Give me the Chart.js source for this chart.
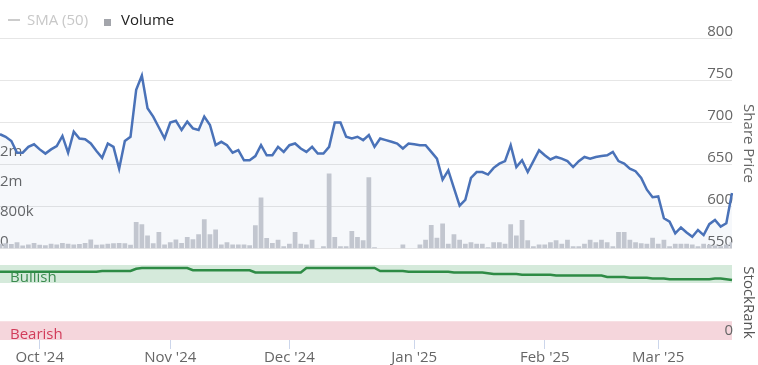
<!DOCTYPE html>
<html>
<head>
<meta charset="utf-8">
<script src="https://cdn.jsdelivr.net/npm/chart.js@4/dist/chart.umd.min.js"></script>
<style>
  body { margin: 0; background: #fff; font-family: "Open Sans", sans-serif; }
  #legend { position: absolute; left: 0; top: 0; width: 758px; height: 38px; font-size: 15px; }
  #legend span { position: absolute; white-space: nowrap; }
  #topPanel { position: absolute; left: 0; top: 0; width: 758px; height: 250px; }
  #bottomPanel { position: absolute; left: 0; top: 250px; width: 758px; height: 115px; }
</style>
</head>
<body>
<div id="topPanel"><canvas id="priceChart"></canvas></div>
<div id="bottomPanel"><canvas id="rankChart"></canvas></div>
<div id="legend">
  <span style="left:8px;top:19px;width:12px;height:2px;background:#cccccc"></span>
  <span style="left:27px;top:9px;color:#c8c8c8">SMA (50)</span>
  <span style="left:104px;top:19px;width:7px;height:7px;background:#a3a5ab"></span>
  <span style="left:121px;top:9px;color:#222">Volume</span>
</div>
<script>
// trading days shown on the x axis
const dates = [
  '2024-09-20','2024-09-23','2024-09-24','2024-09-25','2024-09-26','2024-09-27','2024-09-30',
  '2024-10-01','2024-10-02','2024-10-03','2024-10-04','2024-10-07','2024-10-08','2024-10-09','2024-10-10','2024-10-11',
  '2024-10-14','2024-10-15','2024-10-16','2024-10-17','2024-10-18','2024-10-21','2024-10-22','2024-10-23','2024-10-24',
  '2024-10-25','2024-10-28','2024-10-29','2024-10-30','2024-10-31',
  '2024-11-01','2024-11-04','2024-11-05','2024-11-06','2024-11-07','2024-11-08','2024-11-11','2024-11-12','2024-11-13',
  '2024-11-14','2024-11-15','2024-11-18','2024-11-19','2024-11-20','2024-11-21','2024-11-22','2024-11-25','2024-11-26',
  '2024-11-27','2024-11-28','2024-11-29',
  '2024-12-02','2024-12-03','2024-12-04','2024-12-05','2024-12-06','2024-12-09','2024-12-10','2024-12-11','2024-12-12',
  '2024-12-13','2024-12-16','2024-12-17','2024-12-18','2024-12-19','2024-12-20','2024-12-23','2024-12-24','2024-12-25',
  '2024-12-26','2024-12-27','2024-12-30','2024-12-31',
  '2025-01-01','2025-01-02','2025-01-03','2025-01-06','2025-01-07','2025-01-08','2025-01-09','2025-01-10','2025-01-13',
  '2025-01-14','2025-01-15','2025-01-16','2025-01-17','2025-01-20','2025-01-21','2025-01-22','2025-01-23','2025-01-24',
  '2025-01-27','2025-01-28','2025-01-29','2025-01-30','2025-01-31',
  '2025-02-03','2025-02-04','2025-02-05','2025-02-06','2025-02-07','2025-02-10','2025-02-11','2025-02-12','2025-02-13',
  '2025-02-14','2025-02-17','2025-02-18','2025-02-19','2025-02-20','2025-02-21','2025-02-24','2025-02-25','2025-02-26',
  '2025-02-27','2025-02-28',
  '2025-03-03','2025-03-04','2025-03-05','2025-03-06','2025-03-07','2025-03-10','2025-03-11','2025-03-12','2025-03-13',
  '2025-03-14','2025-03-17','2025-03-18','2025-03-19','2025-03-20'
];

// share price (pence)
const sharePrice = [
  686, 683, 678, 664, 664, 671, 674, 668, 663, 668,
  672, 684, 664, 689, 681, 680, 675, 666, 658, 675,
  671, 645, 678, 683, 739, 756, 717, 707, 694, 681,
  700, 702, 691, 701, 693, 691, 707, 697, 673, 677,
  673, 664, 667, 655, 655, 660, 673, 661, 661, 671,
  665, 673, 675, 669, 665, 671, 663, 663, 671, 700,
  700, 683, 681, 683, 679, 685, 671, 681, 679, 677,
  675, 669, 675, 674, 673, 673, 665, 657, 632, 643,
  622, 601, 608, 634, 641, 641, 638, 646, 651, 654,
  673, 647, 655, 641, 654, 667, 661, 656, 659, 657,
  654, 647, 654, 659, 657, 659, 660, 661, 665, 654,
  651, 645, 642, 634, 620, 611, 612, 586, 582, 568,
  575, 569, 564, 572, 566, 579, 584, 576, 580, 616
];

// traded volume (thousands of shares)
const volume = [
  130, 140, 120, 170, 80, 110, 150, 100, 90, 130,
  110, 150, 130, 110, 120, 150, 240, 100, 110, 130,
  140, 150, 140, 100, 710, 650, 350, 140, 440, 110,
  170, 240, 150, 310, 245, 380, 780, 380, 510, 110,
  170, 110, 110, 110, 90, 620, 1360, 280, 145, 235,
  60, 130, 440, 130, 110, 235, 0, 60, 2000, 305,
  60, 60, 470, 305, 220, 1900, 35, 0, 0, 0,
  0, 110, 0, 0, 110, 235, 630, 290, 670, 130,
  380, 235, 130, 170, 130, 130, 35, 170, 170, 130,
  650, 350, 760, 220, 60, 110, 110, 170, 220, 130,
  235, 60, 60, 130, 235, 170, 235, 170, 60, 440,
  440, 235, 170, 140, 130, 290, 130, 235, 60, 130,
  130, 130, 110, 60, 130, 100, 80, 60, 110, 170
];

// StockRank (0-100)
const stockRank = [
  91, 91, 91, 91, 91, 91, 91, 91, 91, 91,
  91, 91, 91, 91, 91, 91, 91, 91, 92, 92,
  92, 92, 92, 92, 95, 96, 96, 96, 96, 96,
  96, 96, 96, 96, 93, 93, 93, 93, 93, 93,
  93, 93, 93, 93, 93, 90, 90, 90, 90, 90,
  90, 90, 90, 90, 96, 96, 96, 96, 96, 96,
  96, 96, 96, 96, 96, 96, 96, 92, 92, 92,
  92, 92, 91, 91, 91, 91, 91, 91, 91, 91,
  90, 90, 90, 90, 90, 90, 89, 88, 88, 88,
  88, 88, 87, 87, 87, 87, 87, 87, 86, 86,
  86, 86, 86, 86, 86, 86, 86, 84, 84, 84,
  84, 83, 83, 83, 83, 82, 82, 82, 81, 81,
  81, 81, 81, 81, 81, 81, 82, 82, 81, 80
];

const priceTicks = [550, 600, 650, 700, 750, 800];
const volumeTicks = [0, 800, 1600, 2400];
const rankTicks = [0];
const bullishBand = [76, 100];
const bearishBand = [0, 25];
const monthNames = ['Jan', 'Feb', 'Mar', 'Apr', 'May', 'Jun', 'Jul', 'Aug', 'Sep', 'Oct', 'Nov', 'Dec'];

const FONT = '"Open Sans", sans-serif';
const LABEL_COLOR = '#666666';

function monthTick(value, index) {
  const d = dates[index];
  if (index === 0 || d.slice(0, 7) === dates[index - 1].slice(0, 7)) return null;
  return monthNames[+d.slice(5, 7) - 1] + " '" + d.slice(2, 4);
}

function formatVolume(v) {
  if (v >= 1000) return Math.round(v / 1000) + 'm';
  if (v > 0) return v + 'k';
  return '0';
}

// mirrored axes should not push the plot area in
function fixWidth(w) {
  return s => {
    s.width = w;
    s.paddingTop = 0;
    s.paddingBottom = 0;
  };
}

// Price + volume panel
new Chart(document.getElementById('priceChart'), {
  type: 'bar',
  data: {
    labels: dates,
    datasets: [
      {
        type: 'line',
        label: 'Price',
        data: sharePrice,
        yAxisID: 'y',
        borderColor: '#4a72b8',
        borderWidth: 2.5,
        backgroundColor: 'rgba(74,114,184,0.05)',
        fill: 'start',
        pointRadius: 0,
        tension: 0,
        order: 0,
      },
      {
        type: 'bar',
        label: 'Volume',
        data: volume,
        yAxisID: 'vol',
        backgroundColor: '#c9cbd1',
        barPercentage: 0.84,
        categoryPercentage: 1,
        order: 1,
      },
    ],
  },
  options: {
    responsive: true,
    maintainAspectRatio: false,
    animation: false,
    layout: { padding: { top: 38.5, bottom: 1.5, left: 0, right: 0 } },
    plugins: { legend: { display: false }, tooltip: { enabled: false } },
    scales: {
      x: { display: false, offset: false },
      vol: {
        position: 'left',
        min: 0,
        max: 5600,
        grid: { display: false },
        border: { display: false },
        afterBuildTicks: s => { s.ticks = volumeTicks.map(v => ({ value: v })); },
        afterFit: fixWidth(0),
        ticks: {
          mirror: true,
          padding: 0,
          labelOffset: -7,
          color: LABEL_COLOR,
          font: { family: FONT, size: 15 },
          callback: v => formatVolume(v),
        },
      },
      y: {
        position: 'right',
        min: 550,
        max: 800,
        grid: { color: '#e6e6e6', drawTicks: false },
        border: { display: false },
        afterBuildTicks: s => { s.ticks = priceTicks.map(v => ({ value: v })); },
        afterFit: fixWidth(26),
        ticks: {
          mirror: true,
          padding: 1,
          labelOffset: -7,
          color: LABEL_COLOR,
          font: { family: FONT, size: 15 },
        },
        title: {
          display: true,
          text: 'Share Price',
          color: LABEL_COLOR,
          font: { family: FONT, size: 15 },
          padding: { top: 1, bottom: 0 },
        },
      },
    },
  },
});

// Bullish / Bearish background bands for the StockRank panel (drawn before the axes)
const rankBands = {
  id: 'rankBands',
  beforeDraw(chart) {
    const { ctx, chartArea: a, scales: { y } } = chart;
    const bands = [
      { range: bullishBand, fill: '#d5eadb', text: 'Bullish', color: '#3b8b4f' },
      { range: bearishBand, fill: '#f5d6dc', text: 'Bearish', color: '#d23c5a' },
    ];
    ctx.save();
    bands.forEach(b => {
      const top = y.getPixelForValue(b.range[1]);
      const bottom = y.getPixelForValue(b.range[0]);
      ctx.fillStyle = b.fill;
      ctx.fillRect(a.left, top, a.right - a.left, bottom - top);
      ctx.fillStyle = b.color;
      ctx.font = '15px ' + FONT;
      ctx.textBaseline = 'bottom';
      ctx.textAlign = 'left';
      ctx.fillText(b.text, 10, bottom + 2);
    });
    ctx.restore();
  },
};

new Chart(document.getElementById('rankChart'), {
  type: 'line',
  data: {
    labels: dates,
    datasets: [{
      label: 'StockRank',
      data: stockRank,
      borderColor: '#2e8b45',
      borderWidth: 2.5,
      pointRadius: 0,
      tension: 0,
      fill: false,
    }],
  },
  options: {
    responsive: true,
    maintainAspectRatio: false,
    animation: false,
    layout: { padding: { top: 15, bottom: 0, left: 0, right: 0 } },
    plugins: { legend: { display: false }, tooltip: { enabled: false } },
    scales: {
      x: {
        offset: false,
        border: { display: false },
        grid: { drawOnChartArea: false, drawTicks: true, tickLength: 9, color: '#ccd6eb' },
        afterFit: s => { s.height = 25; },
        ticks: {
          autoSkip: false,
          maxRotation: 0,
          padding: 0,
          color: LABEL_COLOR,
          font: { family: FONT, size: 15 },
          callback: monthTick,
        },
      },
      y: {
        position: 'right',
        min: 0,
        max: 100,
        grid: { display: false },
        border: { display: false },
        afterBuildTicks: s => { s.ticks = rankTicks.map(v => ({ value: v })); },
        afterFit: fixWidth(26),
        ticks: {
          mirror: true,
          padding: 1,
          labelOffset: -9,
          color: LABEL_COLOR,
          font: { family: FONT, size: 15 },
        },
        title: {
          display: true,
          text: 'StockRank',
          color: '#555555',
          font: { family: FONT, size: 15 },
          padding: { top: 1, bottom: 0 },
        },
      },
    },
  },
  plugins: [rankBands],
});
</script>
</body>
</html>
